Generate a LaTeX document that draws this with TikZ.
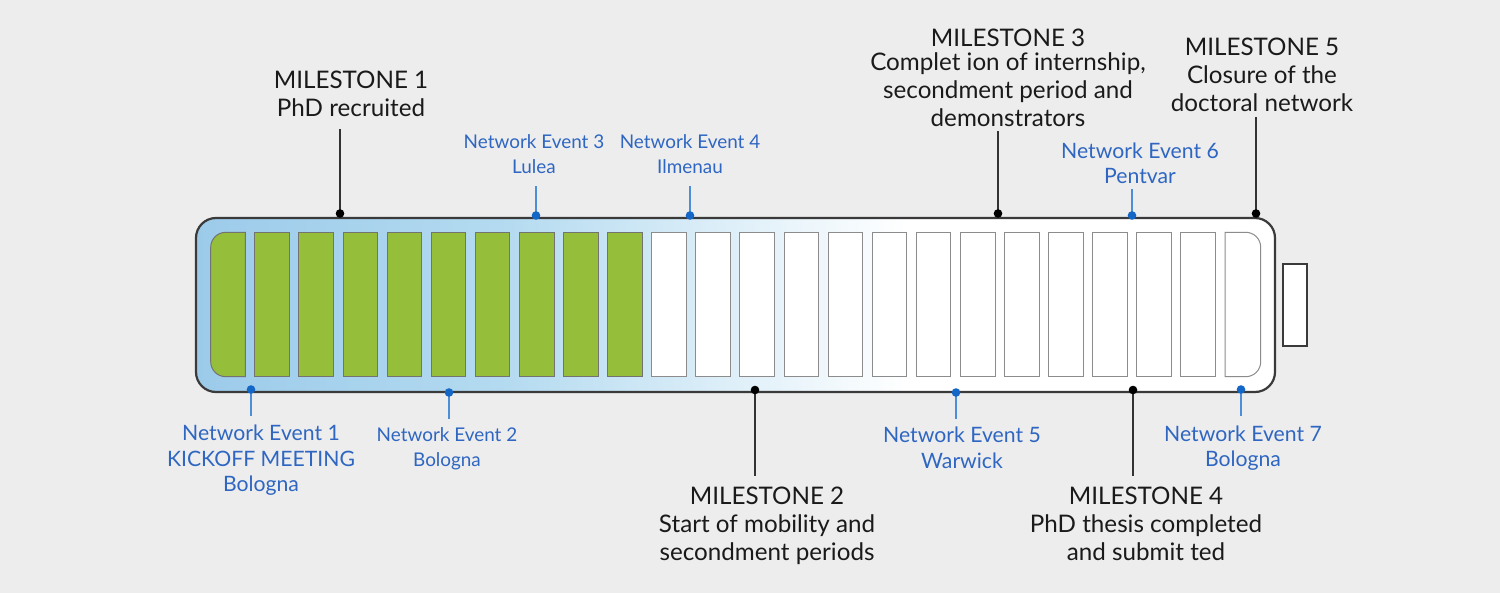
\documentclass[tikz,border=0pt]{standalone}
\usepackage{fontspec}
\setmainfont{Lato}
\definecolor{bg}{HTML}{EDEDED}
\definecolor{cellgreen}{HTML}{95BE3A}
\definecolor{txtblue}{HTML}{2E66C2}
\definecolor{dotblue}{HTML}{1467C6}
\definecolor{lineblue}{HTML}{4C8FD6}
\definecolor{framecol}{HTML}{3A3A3A}
\definecolor{shA}{HTML}{9CCBEA}
\definecolor{shB}{HTML}{B3DAF0}
\definecolor{mstext}{HTML}{1A1A1A}
\pgfdeclarehorizontalshading{barshade}{100bp}{color(0bp)=(shA); color(25bp)=(shA); color(39bp)=(shB); color(58bp)=(white); color(100bp)=(white)}
\begin{document}
\begin{tikzpicture}[x=1pt,y=-1pt,
  ms/.style={font=\fontsize{24.2}{28}\selectfont, text=mstext, align=center, inner sep=0pt},
  ne/.style={font=\fontsize{21.2}{25.5}\selectfont, text=txtblue, align=center, inner sep=0pt},
  nes/.style={font=\fontsize{18.9}{25}\selectfont, text=txtblue, align=center, inner sep=0pt},
  cellg/.style={fill=cellgreen, draw=black!55, line width=1pt},
  cellw/.style={fill=white, draw=black!45, line width=1pt},
  bline/.style={draw=lineblue, line width=1.3pt},
  kline/.style={draw=black!80, line width=1.3pt},
  bdot/.style={fill=dotblue},
  kdot/.style={fill=black}]
\fill[bg] (0,0) rectangle (1500,593);
\useasboundingbox (0,0) rectangle (1500,593);
% battery body
\shadedraw[shading=barshade, draw=framecol, line width=2.2pt, rounded corners=20] (196,218) rectangle (1275,392);
% terminal
\draw[draw=framecol, fill=white, line width=2.2pt] (1283.3,264) rectangle (1306.7,345.7);
% first cell (rounded left)
\draw[cellg] (245.3,232.3) -- (225.7,232.3) .. controls (217.4,232.3) and (210.7,239) .. (210.7,247.3) -- (210.7,361.7) .. controls (210.7,370) and (217.4,376.7) .. (225.7,376.7) -- (245.3,376.7) -- cycle;
% green cells
\foreach \i in {1,...,9} {
  \draw[cellg] ({210.7+44.1*\i},232.3) rectangle +(34.6,144.4);
}
% white cells
\foreach \i in {10,...,22} {
  \draw[cellw] ({210.7+44.1*\i},232.3) rectangle +(34.6,144.4);
}
% last cell (rounded right)
\draw[cellw] (1225,232.3) -- (1245.7,232.3) .. controls (1254,232.3) and (1260.7,239) .. (1260.7,247.3) -- (1260.7,361.7) .. controls (1260.7,370) and (1254,376.7) .. (1245.7,376.7) -- (1225,376.7) -- cycle;

% labels
\node[ms] (m1) at (351,93.5) {MILESTONE 1\\PhD recruited};
\node[ms] (m3) at (1008,77.5) {MILESTONE 3\\[-4pt]Complet ion of internship,\\secondment period and\\demonstrators};
\node[ms] (m5) at (1262,75) {MILESTONE 5\\Closure of the\\doctoral network};
\node[ms] (m2) at (767,525.5) {MILESTONE 2\\Start of mobility and\\secondment periods};
\node[ms] (m4) at (1146,524) {MILESTONE 4\\PhD thesis completed\\and submit ted};
\node[ne] (ne1) at (261,460.5) {Network Event 1\\KICKOFF MEETING\\Bologna};
\node[nes] (ne2) at (447,448.5) {Network Event 2\\Bologna};
\node[nes] (ne3) at (534,154.5) {Network Event 3\\Lulea};
\node[nes] (ne4) at (690,154.5) {Network Event 4\\Ilmenau};
\node[ne] (ne5) at (962,448) {Network Event 5\\Warwick};
\node[ne] (ne6) at (1140,163.5) {Network Event 6\\Pentvar};
\node[ne] (ne7) at (1243,448) {Network Event 7\\Bologna};

% dots and line ends
\coordinate (dm1) at (340,213.5);   \coordinate (tm1) at (340,129);
\coordinate (dm3) at (998,213.5);   \coordinate (tm3) at (998,131);
\coordinate (dm5) at (1256,213.5);  \coordinate (tm5) at (1256,117);
\coordinate (dm2) at (755,390);     \coordinate (tm2) at (755,476);
\coordinate (dm4) at (1133,390);    \coordinate (tm4) at (1133,476);
\coordinate (dn1) at (251,389.5);   \coordinate (tn1) at (251,416);
\coordinate (dn2) at (449,392.5);   \coordinate (tn2) at (449,419);
\coordinate (dn3) at (536,215.5);   \coordinate (tn3) at (536,186);
\coordinate (dn4) at (690,215.5);   \coordinate (tn4) at (690,186);
\coordinate (dn5) at (956,392.5);   \coordinate (tn5) at (956,419);
\coordinate (dn6) at (1132,215.5);  \coordinate (tn6) at (1132,189);
\coordinate (dn7) at (1241,389.5);  \coordinate (tn7) at (1241,416);

\foreach \a in {m1,m2,m3,m4,m5} { \draw[kline] (d\a) -- (t\a); \fill[kdot] (d\a) circle (4.3); }
\foreach \a in {n1,n2,n3,n4,n5,n6,n7} { \draw[bline] (d\a) -- (t\a); \fill[bdot] (d\a) circle (4.3); }
\end{tikzpicture}
\end{document}
